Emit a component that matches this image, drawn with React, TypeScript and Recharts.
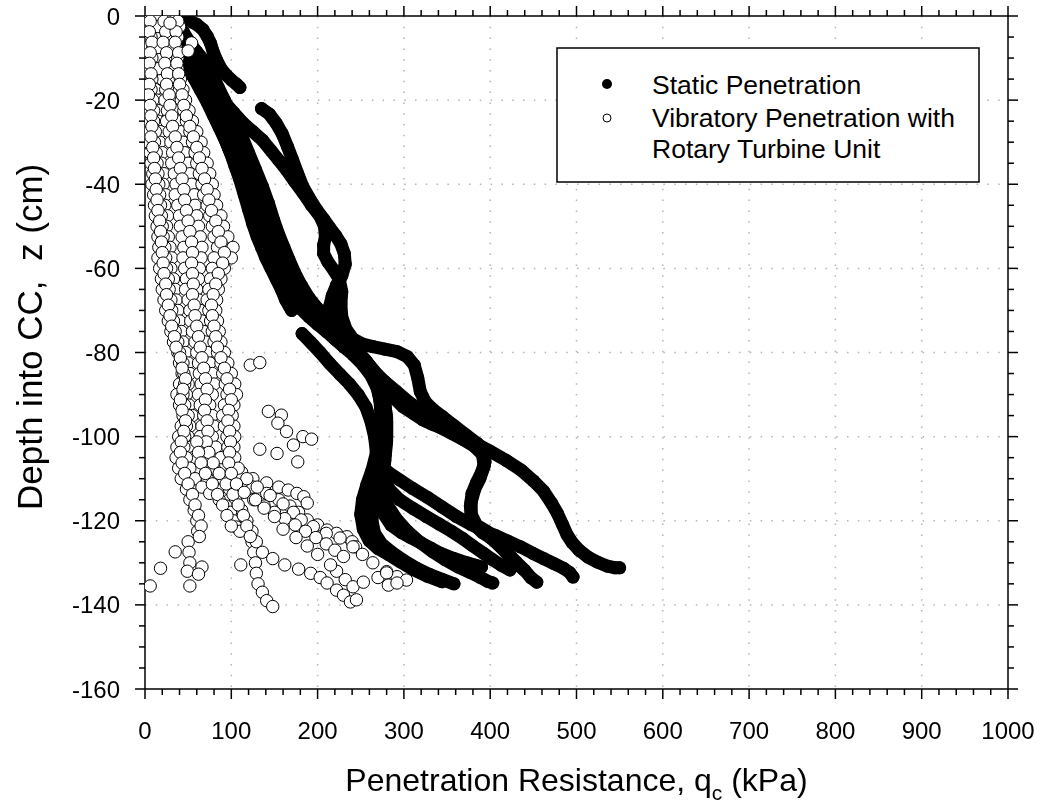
import { CartesianGrid, Scatter, ScatterChart, XAxis, YAxis } from 'recharts'

type Pt = [number, number]

// axis ticks (major every 100 / 20, minor every 20 / 5)
const xTicks = [0, 20, 40, 60, 80, 100, 120, 140, 160, 180, 200, 220, 240, 260, 280, 300, 320, 340, 360, 380, 400, 420, 440, 460, 480, 500, 520, 540, 560, 580, 600, 620, 640, 660, 680, 700, 720, 740, 760, 780, 800, 820, 840, 860, 880, 900, 920, 940, 960, 980, 1000]
const xGrid = [100, 200, 300, 400, 500, 600, 700, 800, 900]
const yTicks = [0, -5, -10, -15, -20, -25, -30, -35, -40, -45, -50, -55, -60, -65, -70, -75, -80, -85, -90, -95, -100, -105, -110, -115, -120, -125, -130, -135, -140, -145, -150, -155, -160]
const yGrid = [-20, -40, -60, -80, -100, -120, -140]

// static penetration tests (qc kPa, z cm)
const static1: Pt[] = [[25, 0], [33, -0.3], [42, -0.6], [52, -1.2], [60, -2], [67, -3.2], [72, -4.8], [76, -6.5], [79, -8.5], [83, -10.5], [88, -12.5], [94, -14], [100, -15.2], [106, -16.2], [110, -17]]
const static2: Pt[] = [[15, 0], [22, -2.5], [30, -5.5], [38, -8.5], [47, -11.5], [56, -14.5], [64, -17.5], [72, -20.5], [79, -23.5], [86, -26.5], [93, -29.5], [99, -32.5], [104, -35.5], [110, -39], [115, -42.5], [120, -46], [125, -49.5], [130, -52.5], [135, -55], [140, -57.5], [146, -60], [152, -62.5], [158, -65], [163, -67.5], [168, -69.3], [170, -70]]
const static3: Pt[] = [[22, 0], [30, -3], [39, -6.5], [48, -10], [58, -13.5], [68, -17], [77, -20.5], [86, -24], [94, -27.5], [101, -31], [108, -34.5], [114, -38], [120, -42], [126, -46], [132, -50], [137, -53.5], [142, -57], [148, -60], [155, -63], [162, -65.5], [170, -67.5], [180, -69.5], [190, -71.5], [200, -73.3], [210, -75], [220, -76.8], [230, -78.6], [241, -80.5], [252, -82.8], [262, -85.5], [269, -88.5], [273, -92], [274, -96], [272, -100], [268, -104], [263, -108], [257, -111.5], [252, -115], [250, -118.5], [253, -122], [260, -124.8], [270, -126.6], [282, -128], [296, -129.8], [311, -131.6], [327, -133.2], [344, -134.5]]
const static4: Pt[] = [[30, 0], [38, -2.5], [47, -5.5], [57, -9], [67, -12.5], [77, -16], [86, -19.5], [95, -23], [103, -26.5], [110, -30], [117, -34], [123, -38], [129, -42], [134, -46], [139, -50], [145, -53], [151, -55.5], [157, -58], [164, -60.5], [171, -63.5], [178, -66.5], [186, -69], [195, -71.5], [205, -73.5], [216, -75.5], [228, -77.5], [240, -79.5], [251, -81.5], [262, -84], [271, -87], [277, -91], [280, -95.5], [280, -100], [278, -104.5], [274, -109], [269, -113], [265, -116.5], [263, -120], [266, -123], [274, -125.5], [286, -127.5], [300, -129.5], [315, -131.3], [330, -132.8], [345, -134], [358, -135]]
const static5: Pt[] = [[135, -22], [144, -23.3], [152, -25.5], [159, -28], [165, -31], [171, -34.2], [177, -37.5], [183, -40.6], [191, -43.5], [199, -46.1], [207, -48.3], [214, -50.3], [221, -52.2], [227, -54.2], [231, -56.5], [232, -59], [228, -61.8], [222, -64], [217, -66.5], [214, -69], [215, -71.8], [220, -74], [227, -75.8], [236, -77.8], [246, -79.8], [256, -82], [266, -84.5], [277, -86.8], [291, -89.2], [307, -92], [324, -94.3], [342, -96.3], [361, -98.8], [380, -101.3], [400, -103.5], [419, -105.7], [436, -108], [450, -110.5], [462, -113], [471, -115.8], [478, -118.3], [484, -121], [489, -123.3], [495, -125.2], [503, -127], [513, -128.6], [524, -129.8], [536, -130.8], [545, -131.2], [550, -131.2]]
const static6: Pt[] = [[32, -6], [44, -8.5], [56, -11.5], [68, -14.5], [80, -17.5], [92, -20.5], [103, -23], [114, -25.5], [125, -27.5], [136, -29.5], [146, -32], [155, -34.3], [164, -36.6], [173, -39.2], [183, -42], [193, -45], [203, -47.7], [208, -50], [209, -52.5], [207, -54.5], [207, -56.5], [212, -58.5], [219, -60.5], [225, -62.5], [228, -65.5], [227, -68.5], [228, -71.5], [233, -74.5], [241, -76.8], [252, -78], [264, -78.6], [278, -79.2], [292, -79.8], [304, -81], [312, -83], [316, -86], [319, -89.3], [325, -91.8], [334, -93.6], [345, -95.3], [358, -97.4], [372, -99.6], [385, -101.6], [393, -103.5], [394, -106], [390, -108.5], [384, -111], [379, -113.5], [377, -116.5], [378, -119], [383, -121.2], [391, -122.8], [400, -124], [410, -125.8], [419, -127.7], [427, -129.5], [434, -130.8], [438, -131.5]]
const static7: Pt[] = [[182, -75.5], [192, -77.6], [203, -80], [214, -82.6], [226, -85.2], [237, -87.5], [247, -90], [256, -93], [262, -96.5], [266, -100], [268, -103.5], [272, -106.5], [282, -108.5], [295, -110.3], [310, -112.3], [327, -114.4], [344, -116.7], [361, -119], [377, -120.8], [392, -122.3], [406, -123.5], [420, -124.8], [435, -126.2], [450, -127.8], [462, -129], [474, -130.2], [485, -131.3], [492, -132.3], [496, -133.4]]
const static8: Pt[] = [[271, -89.5], [273, -93], [274, -97], [273, -101], [271, -105], [270, -109], [273, -112.5], [280, -116], [291, -119.5], [304, -122.5], [318, -125], [333, -127.3], [348, -129.3], [363, -131], [377, -132.3], [389, -133.5], [397, -134.4], [403, -134.8]]
const static9: Pt[] = [[18, 0], [26, -3.5], [35, -7], [45, -10.5], [55, -14], [65, -17.5], [74, -21], [82, -24.5], [90, -28], [97, -31.5], [104, -35], [110, -38.5], [116, -42], [122, -45.5], [128, -49], [134, -52], [141, -54], [150, -55.5], [160, -56.8], [168, -59], [175, -62], [182, -65], [191, -68], [202, -70.5], [213, -72.8], [224, -74.8], [235, -77], [246, -79.5], [257, -82.2], [266, -85], [273, -88], [278, -92], [280, -96.5], [280, -101], [278, -105.5], [276, -109.5], [283, -112.5], [295, -115], [310, -117], [326, -119], [341, -120.8], [355, -122.5], [368, -124.2], [380, -126], [392, -127.7], [403, -129.3], [413, -130.6], [423, -131.7]]
const static10: Pt[] = [[28, 0], [36, -1.5], [45, -4], [54, -7], [63, -10], [72, -13.5], [80, -17], [88, -20.5], [95, -24], [101, -27.5], [107, -31], [112, -34.5], [118, -38], [124, -41.5], [130, -45], [135, -48.5], [140, -51.5], [146, -54], [153, -56], [160, -58], [168, -60.5], [176, -63.5], [184, -66.8], [193, -70], [203, -72.5], [214, -74.5], [226, -76.5], [239, -78.8], [251, -81.2], [262, -84], [270, -87.5], [275, -91.5], [276, -96], [276, -100.5], [275, -105], [274, -109.5], [274, -114], [276, -118.2], [285, -121], [297, -122.8], [307, -123.9], [320, -125.3], [332, -126.6], [342, -127.7], [357, -128.9], [373, -130], [383, -130.6], [390, -131]]
const static11: Pt[] = [[40, -4], [50, -6], [60, -8.5], [70, -11], [78, -14], [85, -17], [92, -20], [99, -23], [106, -26], [113, -29], [120, -32.5], [128, -36.5], [136, -40.5], [143, -44.5], [149, -48.5], [155, -52], [161, -55], [167, -58], [174, -61.3], [181, -64], [190, -67], [199, -69.3], [210, -71.7], [222, -73.9], [232, -76.3], [241, -78.6], [251, -81], [261, -83.4], [272, -86.5], [287, -90.5], [299, -92.9], [311, -94.5], [322, -96], [332, -97], [342, -97.8], [355, -99.2], [368, -100.6], [381, -102.2], [391, -104.2], [393, -107], [388, -110], [382, -112.5], [378, -115.5], [378, -118.5], [384, -121], [396, -122.5], [408, -124.8], [419, -127.4], [430, -129.8], [440, -131.8], [447, -133.5], [454, -134.6]]

const staticTests = [static1, static2, static3, static4, static5, static6, static7, static8, static9, static10, static11]

// vibratory penetration with rotary turbine unit
const vib1: Pt[] = [[3, 0], [2, -2.5], [4, -5], [2, -7.5], [3, -10], [1, -12.5], [3, -15], [2, -17.5], [0, -20], [3, -22.5], [4, -25], [5, -27.5], [4, -30], [6, -32.5], [7, -35], [9, -37.5], [8, -40], [10, -42.5], [11, -45], [12, -47.5], [14, -50], [15, -52.5], [16, -55], [15, -57.5], [17, -60], [19, -62.5], [20, -65], [22, -67.5], [24, -70], [27, -72.5], [30, -75], [33, -77.5], [38, -80], [40, -82.5], [43, -85], [40, -87.5], [37, -90], [40, -92.5], [44, -95], [42, -97.5], [39, -100], [37, -102.5], [36, -105], [39, -107.5], [42, -110], [48, -112.5], [52, -115], [57, -117.5], [60, -120], [61, -122.5], [50, -125], [51, -127.5], [52, -130], [49, -132]]
const vib2: Pt[] = [[10, 0], [8, -2.5], [11, -5], [9, -7.5], [12, -10], [10, -12.5], [13, -15], [12, -17.5], [14, -20], [16, -22.5], [15, -25], [18, -27.5], [17, -30], [20, -32.5], [19, -35], [22, -37.5], [21, -40], [24, -42.5], [23, -45], [26, -47.5], [25, -50], [27, -52.5], [29, -55], [31, -57.5], [30, -60], [33, -62.5], [35, -65], [36, -67.5], [38, -70], [40, -72.5], [42, -75], [44, -77.5], [47, -80], [50, -82.5], [52, -85], [50, -87.5], [48, -90], [51, -92.5], [55, -95], [52, -97.5], [50, -100], [53, -102.5], [56, -105], [62, -107.5], [72, -110], [85, -112.5], [98, -115], [108, -117.5], [115, -120], [121, -122.5], [124, -125], [126, -127.5], [128, -130], [129, -132.5], [131, -135], [136, -137], [141, -139], [148, -140.4]]
const vib3: Pt[] = [[18, 0], [20, -2.5], [17, -5], [21, -7.5], [19, -10], [22, -12.5], [20, -15], [24, -17.5], [23, -20], [26, -22.5], [25, -25], [28, -27.5], [30, -30], [32, -32.5], [31, -35], [34, -37.5], [36, -40], [35, -42.5], [38, -45], [40, -47.5], [41, -50], [43, -52.5], [45, -55], [44, -57.5], [46, -60], [48, -62.5], [47, -65], [50, -67.5], [52, -70], [53, -72.5], [55, -75], [58, -77.5], [60, -80], [62, -82.5], [63, -85], [65, -87.5], [62, -90], [64, -92.5], [68, -95], [66, -97.5], [64, -100], [68, -102.5], [72, -105], [80, -107.5], [90, -110], [98, -112.5], [105, -115], [112, -117.5], [118, -120], [124, -122.5], [129, -125], [136, -127.5], [148, -129], [162, -130.5], [178, -131.5], [192, -132.5], [203, -133.5], [211, -134.8], [222, -136.5], [230, -137.7], [238, -139.3], [245, -138.8]]
const vib4: Pt[] = [[26, 0], [28, -2.5], [25, -5], [29, -7.5], [27, -10], [31, -12.5], [30, -15], [33, -17.5], [35, -20], [37, -22.5], [39, -25], [42, -27.5], [44, -30], [46, -32.5], [50, -35], [52, -37.5], [54, -40], [57, -42.5], [58, -45], [60, -47.5], [62, -50], [64, -52.5], [66, -55], [65, -57.5], [63, -60], [62, -62.5], [60, -65], [62, -67.5], [64, -70], [66, -72.5], [68, -75], [70, -77.5], [72, -80], [75, -82.5], [78, -85], [80, -87.5], [78, -90], [75, -92.5], [78, -95], [80, -97.5], [78, -100], [82, -102.5], [88, -105], [100, -107], [112, -108.5], [125, -110], [141, -111], [155, -112], [166, -112.7], [176, -113.5], [184, -114.3], [188, -115.8]]
const vib5: Pt[] = [[34, 0], [35, -2.5], [32, -5], [36, -7.5], [34, -10], [38, -12.5], [36, -15], [40, -17.5], [42, -20], [45, -22.5], [48, -25], [52, -27.5], [55, -30], [58, -32.5], [60, -35], [63, -37.5], [66, -40], [68, -42.5], [72, -45], [75, -47.5], [78, -50], [80, -52.5], [84, -55], [80, -57.5], [78, -60], [76, -62.5], [74, -65], [72, -67.5], [74, -70], [76, -72.5], [78, -75], [80, -77.5], [84, -80], [88, -82.5], [90, -85], [93, -87.5], [95, -90], [92, -92.5], [90, -95], [92, -97.5], [95, -100], [96, -102.5], [100, -105], [104, -107.5], [110, -110], [125, -112], [141, -113.5], [155, -115], [168, -116.5], [178, -118], [188, -119.8], [200, -121], [211, -122.2], [222, -123], [234, -123.8], [240, -125], [244, -126.2]]
const vib6: Pt[] = [[22, 0], [40, -2.5], [38, -5], [33, -7.5], [38, -10], [35, -12.5], [41, -15], [44, -17.5], [47, -20], [51, -22.5], [55, -25], [60, -27.5], [65, -30], [68, -32.5], [72, -35], [75, -37.5], [78, -40], [80, -42.5], [83, -45], [88, -47.5], [91, -50], [96, -52.5], [102, -55], [100, -57.5], [92, -60], [88, -62.5], [85, -65], [83, -67.5], [82, -70], [84, -72.5], [86, -75], [88, -77.5], [92, -80], [96, -82.5], [100, -85], [104, -87.5], [106, -90], [103, -92.5], [101, -95], [103, -97.5], [104, -100], [103, -102.5], [104, -105], [108, -107.5], [118, -110], [130, -112], [145, -114], [160, -116], [172, -118], [181, -119.8], [195, -121.4], [210, -123], [226, -124.1], [241, -126.2], [252, -128], [264, -130], [280, -132.1], [292, -133.3], [303, -134.1]]
const vib7: Pt[] = [[14, 0], [15, -2.5], [7, -5], [15, -7.5], [8, -10], [16, -12.5], [8, -15], [7, -17.5], [9, -20], [10, -22.5], [10, -25], [12, -27.5], [11, -30], [13, -32.5], [14, -35], [15, -37.5], [16, -40], [17, -42.5], [18, -45], [19, -47.5], [20, -50], [21, -52.5], [23, -55], [24, -57.5], [25, -60], [27, -62.5], [28, -65], [30, -67.5], [31, -70], [33, -72.5], [35, -75], [38, -77.5], [40, -80], [44, -82.5], [45, -85], [46, -87.5], [44, -90], [46, -92.5], [50, -95], [48, -97.5], [46, -100], [45, -102.5], [48, -105], [52, -107.5], [58, -110], [66, -112], [75, -113.5], [86, -115], [94, -116.5], [99, -118], [102, -120], [106, -121.5], [110, -122.5]]
const vib8: Pt[] = [[6, -1.25], [5, -3.75], [8, -6.25], [6, -8.75], [5, -11.25], [7, -13.75], [5, -16.25], [4, -18.75], [6, -21.25], [7, -23.75], [8, -26.25], [7, -28.75], [9, -31.25], [10, -33.75], [11, -36.25], [12, -38.75], [13, -41.25], [14, -43.75], [15, -46.25], [17, -48.75], [18, -51.25], [19, -53.75], [20, -56.25], [21, -58.75], [22, -61.25], [24, -63.75], [25, -66.25], [27, -68.75], [29, -71.25], [31, -73.75], [34, -76.25], [36, -78.75], [41, -81.25], [43, -83.75], [47, -86.25], [44, -88.75], [41, -91.25], [43, -93.75], [47, -96.25], [45, -98.75], [42, -101.25], [41, -103.75], [43, -106.25], [46, -108.75], [50, -111.25], [55, -113.75], [58, -116.25], [62, -118.75], [65, -121.25], [63, -123.75]]
const vib9: Pt[] = [[22, -1.25], [24, -3.75], [21, -6.25], [25, -8.75], [23, -11.25], [26, -13.75], [25, -16.25], [28, -18.75], [29, -21.25], [31, -23.75], [32, -26.25], [35, -28.75], [37, -31.25], [39, -33.75], [41, -36.25], [43, -38.75], [45, -41.25], [46, -43.75], [48, -46.25], [50, -48.75], [52, -51.25], [54, -53.75], [55, -56.25], [54, -58.75], [55, -61.25], [56, -63.75], [55, -66.25], [57, -68.75], [58, -71.25], [60, -73.75], [62, -76.25], [64, -78.75], [66, -81.25], [68, -83.75], [70, -86.25], [72, -88.75], [70, -91.25], [69, -93.75], [72, -96.25], [73, -98.75], [71, -101.25], [74, -103.75], [79, -106.25], [86, -108.75], [94, -111.25], [102, -113.75], [108, -116.25], [114, -118.75], [118, -121.25], [122, -123.75]]
const vib10: Pt[] = [[38, -1.25], [36, -3.75], [35, -6.25], [39, -8.75], [37, -11.25], [39, -13.75], [40, -16.25], [43, -18.75], [45, -21.25], [48, -23.75], [52, -26.25], [56, -28.75], [60, -31.25], [63, -33.75], [66, -36.25], [69, -38.75], [72, -41.25], [74, -43.75], [77, -46.25], [82, -48.75], [85, -51.25], [88, -53.75], [92, -56.25], [90, -58.75], [85, -61.25], [82, -63.75], [79, -66.25], [77, -68.75], [78, -71.25], [80, -73.75], [82, -76.25], [84, -78.75], [88, -81.25], [92, -83.75], [95, -86.25], [98, -88.75], [100, -91.25], [97, -93.75], [96, -96.25], [98, -98.75], [99, -101.25], [98, -103.75], [97, -106.25], [100, -108.75], [106, -111.25], [115, -113.25], [126, -115], [138, -116.5], [150, -118], [162, -119.5], [174, -121], [186, -122.5], [198, -124], [210, -125.5], [220, -127], [230, -128.5]]
const vib11: Pt[] = [[60, -101.25], [62, -103.75], [65, -106.25], [70, -108.75], [78, -111.25], [84, -113.75], [90, -116.25], [95, -118.75], [100, -121.25]]
const vibLoose: Pt[] = [[29, -1.7], [54, -6.4], [50, -8.3], [122, -83], [133, -82.4], [143, -94], [158, -94.9], [154, -96.8], [164, -98.8], [183, -100], [193, -100.6], [172, -102], [133, -103], [153, -104], [177, -106], [6, -135.5], [18, -131.3], [35, -127.4], [52, -135.5], [66, -131], [62, -132.7], [111, -130.5], [222, -132], [232, -134], [241, -135.7], [253, -134.6], [270, -133.5], [280, -132.4], [282, -135.3], [292, -134.8], [200, -128], [215, -130.5], [188, -126], [175, -124], [160, -122], [150, -119], [138, -117], [128, -115]]

const vibTests = [vib1, vib2, vib3, vib4, vib5, vib6, vib7, vib8, vib9, vib10, vib11, vibLoose]

const FONT = '"Liberation Sans", Arial, sans-serif'
const toRows = (pts: Pt[]) => pts.map(([x, y]) => ({ x, y }))
const vibRows = toRows(vibTests.flat())

// the axis draws every tick 10px long; minor ticks get their outer 4px masked
const bottomTick = ({ x, y, payload }: any) => {
  const major = payload.value % 100 === 0
  return (
    <g>
      {!major && <rect x={x - 2} y={y - 4} width={4} height={4.5} fill="#fff" />}
      {major && (
        <text x={x} y={y + 40} textAnchor="middle" fontSize={24} fontFamily={FONT} fill="#000">
          {payload.value}
        </text>
      )}
    </g>
  )
}

const topTick = ({ x, y, payload }: any) => {
  const major = payload.value % 100 === 0
  return <g>{!major && <rect x={x - 2} y={y - 0.5} width={4} height={4.5} fill="#fff" />}</g>
}

const leftTick = ({ x, y, payload }: any) => {
  const major = payload.value % 20 === 0
  return (
    <g>
      {!major && <rect x={x - 0.5} y={y - 2} width={4.5} height={4} fill="#fff" />}
      {major && (
        <text x={x - 15} y={y + 8.5} textAnchor="end" fontSize={24} fontFamily={FONT} fill="#000">
          {payload.value}
        </text>
      )}
    </g>
  )
}

const rightTick = ({ x, y, payload }: any) => {
  const major = payload.value % 20 === 0
  return <g>{!major && <rect x={x - 4} y={y - 2} width={4.5} height={4} fill="#fff" />}</g>
}

const xTitle = ({ viewBox }: any) => {
  const cx = viewBox.x + viewBox.width / 2
  const by = viewBox.y + 102
  return (
    <text x={cx} y={by} textAnchor="middle" fontSize={32} fontFamily={FONT} fill="#000">
      Penetration Resistance, q
      <tspan fontSize={21} dy={9}>c</tspan>
      <tspan dy={-9}> (kPa)</tspan>
    </text>
  )
}

const yTitle = ({ viewBox }: any) => {
  const cx = 42
  const cy = viewBox.y + 494
  return (
    <text x={cx} y={cy} transform={`rotate(-90, ${cx}, ${cy})`} textAnchor="start" fontSize={35} fontFamily={FONT} fill="#000" style={{ whiteSpace: 'pre' }}>
      {'Depth into CC,  z (cm)'}
    </text>
  )
}

const filledDot = (p: any) => <circle cx={p.cx} cy={p.cy} r={6.5} fill="#000" />
const openDot = (p: any) => <circle cx={p.cx} cy={p.cy} r={6.2} fill="#fff" stroke="#000" strokeWidth={1} />

const axisLine = { stroke: '#000', strokeWidth: 1.5 }
const tickLine = { stroke: '#000', strokeWidth: 1.5 }

export default function App() {
  return (
    <div style={{ position: 'relative', width: 1040, height: 805 }}>
      <div style={{ position: 'fixed', left: 0, top: -14, width: 1040, height: 819 }}>
        <ScatterChart width={1040} height={819} margin={{ top: 0, right: 0, bottom: 0, left: 0 }}>
          <CartesianGrid
            stroke="#b4b4b4"
            strokeWidth={1.5}
            strokeDasharray="1.5 9.3"
            verticalValues={xGrid}
            horizontalValues={yGrid}
          />
          <XAxis
            dataKey="x"
            type="number"
            domain={[0, 1000]}
            allowDataOverflow
            ticks={xTicks}
            interval={0}
            height={116}
            tickSize={10}
            tickMargin={0}
            tickLine={tickLine}
            axisLine={axisLine}
            tick={bottomTick}
            label={xTitle}
          />
          <XAxis
            xAxisId="top"
            orientation="top"
            dataKey="x"
            type="number"
            domain={[0, 1000]}
            allowDataOverflow
            ticks={xTicks}
            interval={0}
            height={30}
            tickSize={10}
            tickMargin={0}
            tickLine={tickLine}
            axisLine={axisLine}
            tick={topTick}
          />
          <YAxis
            dataKey="y"
            type="number"
            domain={[-160, 0]}
            allowDataOverflow
            ticks={yTicks}
            interval={0}
            width={145}
            tickSize={10}
            tickMargin={0}
            tickLine={tickLine}
            axisLine={axisLine}
            tick={leftTick}
            label={yTitle}
          />
          <YAxis
            yAxisId="right"
            orientation="right"
            dataKey="y"
            type="number"
            domain={[-160, 0]}
            allowDataOverflow
            ticks={yTicks}
            interval={0}
            width={32}
            tickSize={10}
            tickMargin={0}
            tickLine={tickLine}
            axisLine={axisLine}
            tick={rightTick}
          />
          {staticTests.map((t, i) => (
            <Scatter
              key={`s${i}`}
              data={toRows(t)}
              fill="#000"
              shape={filledDot}
              line={{ stroke: '#000', strokeWidth: 13, strokeLinejoin: 'round', strokeLinecap: 'round', fill: 'none' }}
              isAnimationActive={false}
            />
          ))}
          {/* top/right axes share the main domains, so the open circles land in the same place */}
          <Scatter
            xAxisId="top"
            yAxisId="right"
            data={vibRows}
            fill="#fff"
            shape={openDot}
            isAnimationActive={false}
          />
        </ScatterChart>
      </div>
      <svg width={1040} height={805} style={{ position: 'fixed', left: 0, top: 0, pointerEvents: 'none' }}>
        <rect x={557} y={48} width={422} height={134} fill="#fff" stroke="#000" strokeWidth={1.5} />
        <circle cx={607} cy={84} r={5} fill="#000" />
        <text x={652} y={94} fontSize={26.5} fontFamily={FONT} fill="#000">Static Penetration</text>
        <circle cx={607} cy={118} r={4} fill="#fff" stroke="#000" strokeWidth={1} />
        <text x={652} y={127} fontSize={26.5} fontFamily={FONT} fill="#000">Vibratory Penetration with</text>
        <text x={652} y={158} fontSize={26.5} fontFamily={FONT} fill="#000">Rotary Turbine Unit</text>
      </svg>
    </div>
  )
}
